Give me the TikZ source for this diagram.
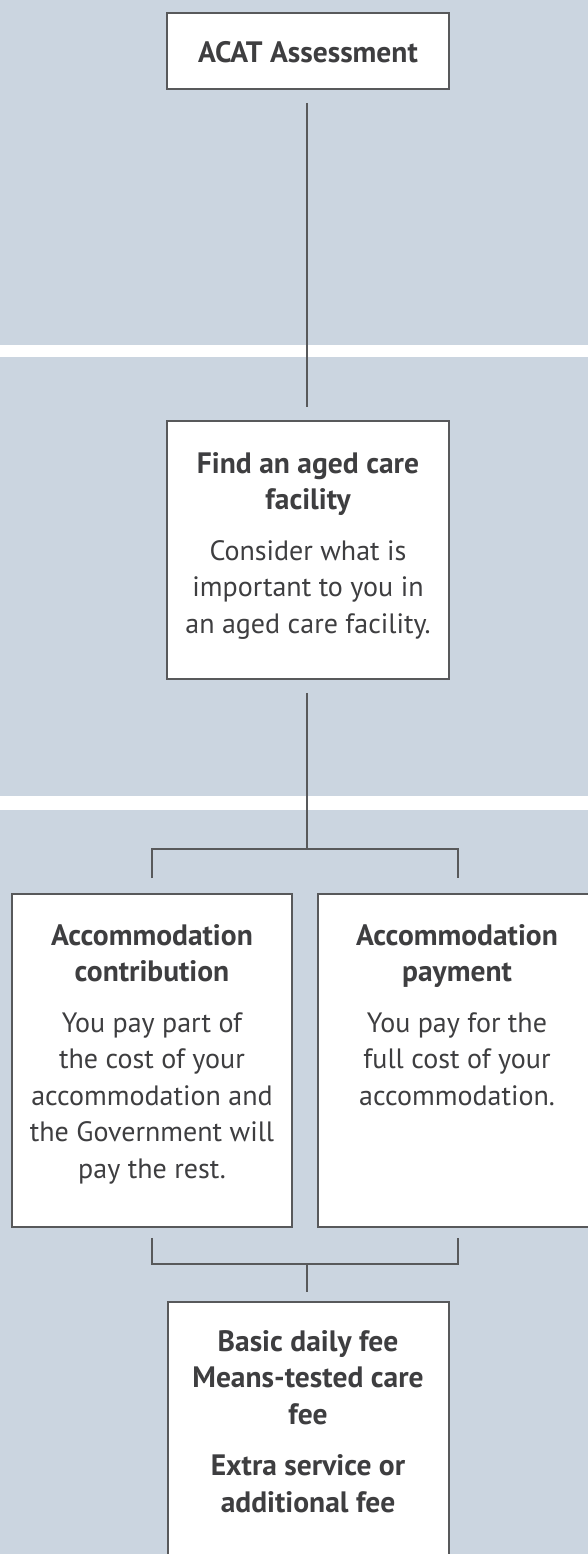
\documentclass[tikz,border=0pt]{standalone}
\usepackage{fontspec}
\setmainfont{PT Sans}
\definecolor{bgc}{RGB}{203,213,224}
\definecolor{edge}{RGB}{88,89,91}
\definecolor{ink}{RGB}{62,62,64}
\newcommand\ttlfont{\fontsize{29.5pt}{36.5pt}\selectfont\bfseries}
\begin{document}
\begin{tikzpicture}[x=1pt,y=-1pt,
  box/.style={draw=edge, line width=1.8pt, fill=white, inner sep=0pt},
  txt/.style={text=ink, align=center, inner sep=0pt, anchor=north,
    font=\fontsize{28pt}{36.5pt}\selectfont},
  conn/.style={draw=edge, line width=1.8pt}]
\useasboundingbox (0,0) rectangle (588,1554);
\clip (0,0) rectangle (588,1554);
\fill[bgc] (0,0) rectangle (588,1554);
\fill[white] (0,345) rectangle (588,357);
\fill[white] (0,796) rectangle (588,810);

% boxes
\node[box, minimum width=282pt, minimum height=76pt] (acat) at (308,51) {};
\node[box, minimum width=282pt, minimum height=258pt] (find) at (308,550) {};
\node[box, minimum width=280pt, minimum height=333pt] (left) at (152,1060.5) {};
\node[box, minimum width=280pt, minimum height=333pt] (right) at (458,1060.5) {};
\node[box, minimum width=281pt, minimum height=320pt] (fees) at (308.5,1462) {};

% texts
\node[txt, anchor=center] (acatT) at (308,52) {\ttlfont ACAT Assessment};
\node[txt] (findT) at (308,452) {\ttlfont Find an aged care\\ \ttlfont facility\\[14pt]
  Consider what is\\ important to you in\\ an aged care facility.};
\node[txt] (leftT) at (152,924) {\ttlfont Accommodation\\ \ttlfont contribution\\[14pt]
  You pay part of\\ the cost of your\\ accommodation and\\ the Government will\\ pay the rest.};
\node[txt] (rightT) at (457,924) {\ttlfont Accommodation\\ \ttlfont payment\\[14pt]
  You pay for the\\ full cost of your\\ accommodation.};
\node[txt] (feesT) at (308,1330) {\ttlfont Basic daily fee\\ \ttlfont Means-tested care\\ \ttlfont fee\\[15pt]
  \ttlfont Extra service or\\ \ttlfont additional fee};

% connectors
\coordinate (split) at (307,849);
\coordinate (merge) at (307,1264);
\draw[conn] ([yshift=-13pt]acat.south -| split) -- ([yshift=13pt]find.north -| split);
\draw[conn] ([yshift=-13pt]find.south -| split) -- (split);
\draw[conn] ([yshift=15pt]left.north) -- (left.north |- split) -- (right.north |- split) -- ([yshift=15pt]right.north);
\draw[conn] ([yshift=-10pt]left.south) -- (left.south |- merge) -- (right.south |- merge) -- ([yshift=-10pt]right.south);
\draw[conn] (merge) -- ([yshift=9pt]fees.north -| merge);
\end{tikzpicture}
\end{document}
